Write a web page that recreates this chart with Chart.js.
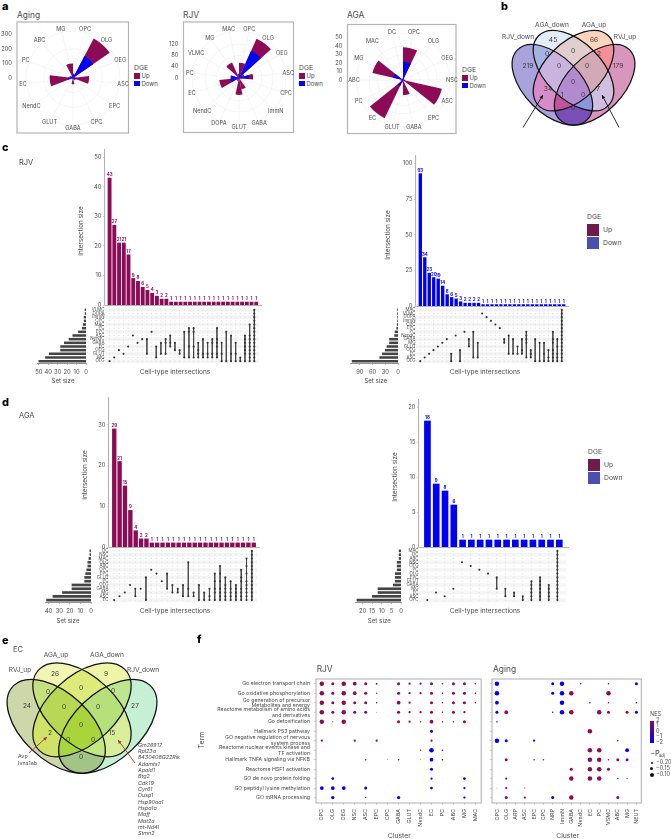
<!DOCTYPE html>
<html>
<head>
<meta charset="utf-8">
<style>
  html, body { margin: 0; padding: 0; background: #fff; }
  #page { position: relative; width: 671px; height: 839px; overflow: hidden; font-family: Inter, "Open Sans", sans-serif; color: #444; }
  #page canvas { position: absolute; }
  .t { position: absolute; white-space: nowrap; line-height: 1; }
  .sw { position: absolute; }
</style>
<script src="https://cdn.jsdelivr.net/npm/chart.js@4"></script>
</head>
<body>
<div id="page"></div>
<script>
// panel a
const agingCats = ['OPC','OLG','OEG','ASC','EPC','CPC','GABA','GLUT','NendC','EC','PC','ABC','MG'];
const agingUp = [10,135,5,85,5,5,32,5,5,125,5,5,80];
const agingDown = [20,170,10,25,15,5,10,5,5,35,20,10,20];
const agingTicks = [0,100,200,300];
const rjvCats = ['OPC','OLG','OEG','ASC','CPC','ImmN','GABA','GLUT','DOPA','NendC','EC','PC','VLMC','MG','MAC'];
const rjvUp = [42,47,10,15,5,3,38,55,8,6,40,2,4,52,10];
const rjvDown = [12,105,10,35,5,2,3,5,4,4,30,28,4,8,5];
const rjvTicks = [0,40,80,120];
const agaCats = ['OPC','OLG','OEG','NSC','ASC','EPC','GABA','GLUT','EC','PC','ABC','MG','MAC','DC'];
const agaUp = [17,1,1,1,44,1,17,2,42,2,2,25,1,1];
const agaDown = [21.6,1,1,1,3,1,1,1,8,1,1,12,1,1];
const agaTicks = [0,10,20,30,40,50];

// panel b / e
const vennRegions = [[0],[1],[2],[3],[0,1],[1,2],[2,3],[0,2],[1,3],[0,3],[0,1,2],[1,2,3],[0,2,3],[0,1,3],[0,1,2,3]];
const bCounts = [219,45,66,179,0,0,2,34,7,0,0,0,1,0,0];
const bColors = ['#a9a2dc','#e3edf9','#fdd4bd','#d996bc','#a5b2e2','#e0cfcc','#f28f98','#d58cc9','#d0bfe0','#7a4fb8','#c9b3df','#d3a9b5','#c2549e','#8b96dd','#b28bcf'];
const bAnchors = [[528,66],[553,40],[594,40],[618,66],[547,54],[573,51],[599,54],[548,89],[598,89],[573,108],[559,66],[587,66],[562,95],[583,95],[573,82]];
const eCounts = [24,26,9,27,0,0,0,2,15,0,0,0,0,0,0];
const eColors = ['#cdd7a9','#f3f5b4','#eef5a6','#c6f0d3','#c6e07e','#dceb7a','#bfe68f','#d0e366','#d8ee9a','#a3c487','#b8d855','#b5e07a','#a6d641','#c2e884','#a9d43c'];
const eAnchors = [[27,706],[55,674],[106,674],[135,706],[48,692],[81,688],[113,691],[50,733],[112,733],[81,757],[64,707],[98,707],[68,740],[93,740],[81,725]];
const eGenes = ['Gm26917','Rpl23a','8430408G22Rik','Adamts1','Apold1','Btg2','Cdk19','Cyr61','Dusp1','Hsp90aa1','Hspa1a','Maff','Mat2a','mt-Nd4l','Stmn2'];

// panel c
const cUpSizes = [43,27,21,21,17,9,8,6,5,4,3,2,2,1,1,1,1,1,1,1,1,1,1,1,1,1,1,1,1,1,1,1];
const cUpSets = ['VLMC','DOPA','ImmN','CPC','MAC','PC','EPC','ASC','NendC','GABA','EC','OEG','GLUT','MG','OLG'];
const cUpSetSizes = [1,1,2,2,3,4,8,14,18,23,27,27,39,43,50];
const cUpCols = [[14],[13],[11],[12],[10],[7],[9],[8],[8,12],[6],[10,13],[9,12],[8,9,12],[7,9,10],[9,11],[11,12],[6,13],[5,6,10,13],[5,6,10,13],[9,11,12,13],[8,12,13],[9,12,13],[8,9,12,13],[5,8,9,10,12,13],[9,12,14],[6,14],[7,12,14],[9,12,14],[13,14],[7,8,9,10,11,12,14],[4,7,8,9,10,11,12,13,14],[0,1,2,3,4,5,6,7,8,9,10,11,12,13,14]];
const cDownSizes = [93,34,23,20,19,14,8,6,5,3,2,2,2,2,1,1,1,1,1,1,1,1,1,1,1,1,1,1,1,1,1,1,1];
const cDownSets = ['MAC','VLMC','DOPA','ImmN','CPC','EPC','PC','NendC','GABA','MG','GLUT','OEG','EC','ASC','OLG'];
const cDownSetSizes = [1,1,1,1,2,3,7,8,20,20,26,30,37,43,108];
const cDownCols = [[14],[13],[12],[11],[10],[9],[8],[12,14],[7],[11,14],[6],[8,10],[6,13],[9,13],[1],[2],[3],[4],[5],[8,9],[7,12],[8,12],[10,12],[8,11,12],[6,7,8,9,13],[11,12,13],[8,14],[9,14],[9,12,14],[11,13,14],[6,8,9,11,12,13,14],[8,10,12,13,14],[0,1,2,3,4,5,6,7,8,9,10,11,12,13,14]];

// panel d
const dUpSizes = [29,21,15,9,4,2,2,1,1,1,1,1,1,1,1,1,1,1,1,1,1,1,1,1,1,1,1];
const dUpSets = ['DC','NSC','MAC','OLG','ABC','OPC','EPC','GLUT','PC','OEG','GABA','MG','ASC','EC'];
const dUpSetSizes = [1,1,2,3,3,4,5,6,6,18,18,27,36,42];
const dUpCols = [[13],[12],[11],[9],[10,12],[10],[7,13],[5],[6],[8],[6,10],[9,11],[10,11],[9,12],[3,10,12],[11,12],[9,13],[11,13],[10,12,13],[6,8,10,11,13],[4,6,8,10,11,12,13],[7,9,10,11,12,13],[8,10,11,12,13],[9,10,11,12,13],[5,7,8,10,11,12,13],[2,4,6,8,9,10,11,12,13],[0,1,2,3,4,5,6,7,8,9,10,11,12,13]];
const dDownSizes = [18,9,8,6,1,1,1,1,1,1,1,1,1,1,1,1];
const dDownSets = ['MAC','DC','ABC','NSC','OEG','PC','OLG','EPC','GLUT','GABA','MG','EC','ASC','OPC'];
const dDownSetSizes = [1,1,1,2,2,2,3,3,3,4,12,12,15,23];
const dDownCols = [[13],[11],[12],[10],[3],[4],[5],[6],[7,10],[10,12],[11,12],[12,13],[8,9,10,11,12,13],[7,8,9,10,11,12,13],[9,10,11,12,13],[0,1,2,3,4,5,6,7,8,9,10,11,12,13]];

// panel f: signed dot size per term, + is up (NES>0), - is down
const fTerms = ['Go electron transport chain','Go oxidative phosphorylation',['Go generation of precursor','Metabolites and energy'],['Reactome metabolism of amino acids','and derivatives'],'Go detoxification','Hallmark P53 pathway',['GO negative regulation of nervous','system process'],['Reactome nuclear events kinase and','TF activation'],'Hallmark TNFA signaling via NFKB','Reactome HSF1 activation','GO de novo protein folding','GO peptidyl lysine methylation','GO mRNA processing'];
const fRjvClusters = ['OPC','OLG','OEG','NSC','ASC','EPC','CPC','GABA','GLUT','NendC','EC','PC','ABC','MG','MAC'];
const fRjvDots = [
  [3,2,3,2.5,2,1.2,0,2,1.5,1.5,2,1,2,2,1],
  [3,2,3,2.5,2,1,0,2,1.5,1.5,2,1,2,2,1],
  [3,2,3,2,2,1,0,2.5,1.5,0,2,1,2,2,1],
  [3,2,3,2,2,.5,0,2,1.5,1.5,2,1,2,1.5,0],
  [3,.7,3,0,0,0,0,2,1.5,1,2.5,1,1,2,0],
  [0,0,0,0,0,0,0,0,0,0,-2,0,0,0,0],
  [1.5,0,0,1.5,0,1.5,0,0,0,0,1.5,0,0,0,0],
  [0,0,0,0,0,0,0,0,0,1,-3,-1,0,0,0],
  [0,0,0,0,-1,0,-.4,-1,0,.5,-2.5,-1,0,0,0],
  [0,0,0,0,0,0,0,0,0,0,-2,0,0,0,0],
  [0,-1.8,0,0,0,0,0,0,0,0,-1.5,-.3,0,-1.8,0],
  [-2.5,-2.5,-2.5,0,-2,0,0,0,0,0,-1.8,0,0,-1.5,0],
  [0,-2.2,0,0,-1,0,0,-2.2,0,0,0,0,0,-1.5,0]
];
const fAgingClusters = ['OPC','OLG','ARP','ASC','EPC','CPC','NRP','ImmN','GABA','NendC','EC','PC','VSMC','ABC','MG','NEUT'];
const fAgingDots = [
  [-3,0,0,0,0,0,-2,-3,0,1,0,0,1,0,0,-2],
  [-3,0,0,0,0,0,-2,-3,3,0,0,0,3,0,0,0],
  [-2.5,0,0,0,0,0,0,-3,0,0,-1,0,1,0,0,-1],
  [-2,2.5,0,0,0,0,-1,-3,3,0,0,3,2,0,2,-2],
  [-1,0,0,0,0,0,0,0,0,0,0,0,0,0,0,0],
  [0,0,0,0,0,0,0,0,0,0,3,0,0,0,0,0],
  [-3,-2,0,0,-1.5,0,0,0,0,0,0,0,0,-1,0,0],
  [0,0,0,0,0,0,0,0,0,0,3,3,0,0,-2.5,0],
  [0,2,0,0,1,1,0,0,0,-.3,3,3,1,2,2,0],
  [0,0,0,0,0,0,0,0,2,0,3,3,2,0,0,0],
  [0,1.5,0,0,0,0,0,0,3,0,3,3,0,1,.8,0],
  [.5,1.5,0,.7,0,0,0,0,0,0,0,0,0,0,0,0],
  [0,2,0,1.5,0,0,-2,0,3,0,0,0,0,2,0,0]
];
const nesTicks = ['2','1','0','\u22121','\u22122'];
const padjTicks = ['\u22120.20','\u22120.15','\u22120.10'];

const UP = '#8c0a56';
const DOWN = '#0000f5';
const AXIS = '#b4b4b4';
const INK = '#4a4a4a';
const FONT = 'Inter, "Open Sans", sans-serif';

Chart.defaults.animation = false;
Chart.defaults.responsive = false;
Chart.defaults.font.family = FONT;
Chart.defaults.plugins.legend.display = false;
Chart.defaults.plugins.tooltip.enabled = false;

const page = document.getElementById('page');

function text(str, x, y, o = {}) {
  const el = document.createElement('div');
  el.className = 't';
  el.textContent = str;
  const ax = o.anchor === 'middle' ? -50 : o.anchor === 'end' ? -100 : 0;
  el.style.left = x + 'px';
  el.style.top = y + 'px';
  el.style.fontSize = (o.size || 6) + 'px';
  el.style.color = o.color || INK;
  if (o.weight) el.style.fontWeight = o.weight;
  if (o.italic) el.style.fontStyle = 'italic';
  el.style.transform = `translate(${ax}%,-50%)` + (o.rot ? ` rotate(${o.rot}deg)` : '');
  page.appendChild(el);
}

function swatch(x, y, w, h, color) {
  const el = document.createElement('div');
  el.className = 'sw';
  el.style.cssText = `left:${x}px;top:${y}px;width:${w}px;height:${h}px;background:${color}`;
  page.appendChild(el);
  return el;
}

// plot area sits exactly on the given box, axes are drawn into the margins
function makeCanvas(box, m) {
  const c = document.createElement('canvas');
  const left = Math.round(box.l) - m.l, top = Math.round(box.t) - m.t;
  c.width = Math.round(box.r) - Math.round(box.l) + m.l + m.r;
  c.height = Math.round(box.b) - Math.round(box.t) + m.t + m.b;
  c.style.left = left + 'px';
  c.style.top = top + 'px';
  page.appendChild(c);
  return c;
}
const pad = m => ({ left: m.l, right: m.r, top: m.t, bottom: m.b });
// a scale takes a fixed band of the margin so its labels are not clipped
const bandFit = size => s => { if (s.isHorizontal()) s.height = size; else s.width = size; };
const fixedTicks = vals => s => { s.ticks = vals.map(v => ({ value: v })); };
const range = n => Array.from({ length: n }, (_, i) => i);

function polar(o) {
  const R = 47;
  const m = { l: Math.round(o.cx) - R - Math.round(o.box.l) + 24, r: Math.round(o.box.r) - Math.round(o.cx) - R + 2, t: Math.round(o.cy) - R - Math.round(o.box.t) + 2, b: Math.round(o.box.b) - Math.round(o.cy) - R + 2 };
  const c = makeCanvas({ l: o.cx - R, r: o.cx + R, t: o.cy - R, b: o.cy + R }, m);
  new Chart(c, {
    type: 'polarArea',
    data: {
      labels: o.cats,
      datasets: [
        { data: o.down, backgroundColor: DOWN, borderWidth: 0 },
        { data: o.up.map((v, i) => v + o.down[i]), backgroundColor: UP, borderWidth: 0 }
      ]
    },
    options: {
      layout: { padding: pad(m) },
      scales: {
        r: {
          min: 0, max: R / o.pxPerUnit,
          ticks: { display: false, stepSize: o.ticks[1] },
          grid: { color: '#efefef', lineWidth: 0.6, circular: true },
          angleLines: { display: false },
          pointLabels: { display: false }
        }
      }
    },
    plugins: [{
      id: 'polarDecor',
      beforeDatasetsDraw(ch) {
        const s = ch.scales.r, ctx = ch.ctx;
        ctx.save();
        ctx.strokeStyle = '#efefef';
        ctx.lineWidth = 0.6;
        o.cats.forEach((_, i) => {
          const p = s.getPointPosition(i + 0.5, R);
          ctx.beginPath(); ctx.moveTo(s.xCenter, s.yCenter); ctx.lineTo(p.x, p.y); ctx.stroke();
        });
        ctx.restore();
      },
      afterDraw(ch) {
        const s = ch.scales.r, ctx = ch.ctx;
        ctx.save();
        const ox = Math.round(o.cx) - R - m.l, oy = Math.round(o.cy) - R - m.t;
        ctx.strokeStyle = AXIS;
        ctx.lineWidth = 1.2;
        ctx.strokeRect(o.box.l - ox, o.box.t - oy, o.box.r - o.box.l, o.box.b - o.box.t);
        ctx.fillStyle = INK;
        ctx.font = '5.6px ' + FONT;
        ctx.textAlign = 'center';
        ctx.textBaseline = 'middle';
        o.cats.forEach((lab, i) => {
          const p = s.getPointPosition(i + 0.5, o.labelR);
          ctx.fillText(lab, p.x, p.y);
        });
        ctx.textAlign = 'right';
        ctx.font = '5.8px ' + FONT;
        o.ticks.forEach(v => {
          const y = s.yCenter - s.getDistanceFromCenterForValue(v);
          ctx.fillText(String(v), o.box.l - ox - 5, y);
        });
        ctx.restore();
      }
    }]
  });
}

function legendSmall(x, y) {
  text('DGE', x, y, { size: 6.8 });
  swatch(x, y + 5, 5.5, 5.5, UP);
  text('Up', x + 7.5, y + 8, { size: 6 });
  swatch(x, y + 12.5, 5.5, 5.5, DOWN);
  text('Down', x + 7.5, y + 15.5, { size: 6 });
}

function legendBig(x, y) {
  text('DGE', x, y, { size: 6.8 });
  swatch(x, y + 7.5, 12, 12, '#6e1a4a');
  text('Up', x + 16, y + 13.5, { size: 6.8 });
  swatch(x, y + 20.7, 12, 12, '#4a4fb0');
  text('Down', x + 16, y + 26.7, { size: 6.8 });
}

function venn(o) {
  const box = o.box, m = { l: 0, r: 0, t: 0, b: 0 };
  const c = makeCanvas(box, m);
  const ellipses = [[.35,.47,1],[.5,.57,1],[.5,.57,-1],[.65,.47,-1]];
  new Chart(c, {
    type: 'scatter',
    data: { datasets: [{ data: o.anchors.map(p => ({ x: p[0], y: p[1] })), pointRadius: 0 }] },
    options: {
      layout: { padding: 0 },
      scales: {
        x: { display: false, min: Math.round(box.l), max: Math.round(box.r) },
        y: { display: false, min: Math.round(box.t), max: Math.round(box.b), reverse: true }
      }
    },
    plugins: [{
      id: 'vennDraw',
      beforeDatasetsDraw(ch) {
        const ctx = ch.ctx, X = ch.scales.x, Y = ch.scales.y;
        const path = i => {
          const e = ellipses[i];
          ctx.beginPath();
          ctx.save();
          ctx.translate(X.getPixelForValue(o.cx + (e[0] - .5) * o.sx), Y.getPixelForValue(o.top + (.855 - e[1]) * o.sy));
          ctx.scale(o.sx, o.sy);
          ctx.rotate(e[2] * Math.PI / 4);
          ctx.ellipse(0, 0, .35, .2, 0, 0, Math.PI * 2);
          ctx.restore();
        };
        vennRegions.forEach((sets, r) => {
          ctx.save();
          sets.forEach(i => { path(i); ctx.clip(); });
          ctx.fillStyle = o.colors[r];
          ctx.fillRect(0, 0, ch.width, ch.height);
          ctx.restore();
        });
        ctx.save();
        ctx.strokeStyle = '#111';
        ctx.lineWidth = 1.25;
        ellipses.forEach((_, i) => { path(i); ctx.stroke(); });
        ctx.restore();
      },
      afterDatasetsDraw(ch) {
        const ctx = ch.ctx, X = ch.scales.x, Y = ch.scales.y;
        ctx.save();
        ctx.fillStyle = '#3a3a3a';
        ctx.font = '6.6px ' + FONT;
        ctx.textAlign = 'center';
        ctx.textBaseline = 'middle';
        ch.getDatasetMeta(0).data.forEach((pt, i) => ctx.fillText(String(o.counts[i]), pt.x, pt.y));
        ctx.strokeStyle = ctx.fillStyle = o.arrowColor;
        ctx.lineWidth = 0.9;
        o.arrows.forEach(a => {
          const x0 = X.getPixelForValue(a[0]), y0 = Y.getPixelForValue(a[1]);
          const x1 = X.getPixelForValue(a[2]), y1 = Y.getPixelForValue(a[3]);
          const th = Math.atan2(y1 - y0, x1 - x0), h = 4;
          ctx.beginPath(); ctx.moveTo(x0, y0); ctx.lineTo(x1, y1); ctx.stroke();
          ctx.beginPath();
          ctx.moveTo(x1, y1);
          ctx.lineTo(x1 - h * Math.cos(th - .45), y1 - h * Math.sin(th - .45));
          ctx.lineTo(x1 - h * Math.cos(th + .45), y1 - h * Math.sin(th + .45));
          ctx.closePath(); ctx.fill();
        });
        ctx.restore();
      }
    }]
  });
}

function upset(o) {
  const n = o.sizes.length, rows = o.sets.length;
  const xScale = { type: 'linear', min: o.xMin, max: o.xMax, offset: false };

  // intersection size bars
  const m1 = { l: 26, r: 6, t: 7, b: 7 };
  const bars = makeCanvas({ l: o.x0, r: o.x1, t: o.barTop, b: o.barBottom }, m1);
  new Chart(bars, {
    type: 'bar',
    data: { datasets: [{ data: o.sizes.map((v, i) => ({ x: i, y: v })), backgroundColor: o.color, barThickness: o.barW }] },
    options: {
      layout: { padding: { left: 0, right: m1.r, top: m1.t, bottom: m1.b } },
      scales: {
        x: { ...xScale, afterFit: bandFit(0), ticks: { display: false }, grid: { display: false }, border: { color: AXIS, width: 1 } },
        y: {
          min: 0, max: o.yMax, afterFit: bandFit(m1.l),
          afterBuildTicks: fixedTicks(o.yTicks),
          ticks: { autoSkip: false, color: INK, font: { size: 5.8 }, padding: 1.5 },
          grid: { drawOnChartArea: false, tickLength: 2, color: AXIS, lineWidth: 0.6 },
          border: { color: AXIS, width: 1.1 }
        }
      }
    },
    plugins: [{
      id: 'barValues',
      afterDatasetsDraw(ch) {
        const ctx = ch.ctx;
        ctx.save();
        ctx.fillStyle = o.color;
        ctx.font = '700 4.4px ' + FONT;
        ctx.textAlign = 'center';
        ctx.textBaseline = 'bottom';
        ch.getDatasetMeta(0).data.forEach((b, i) => ctx.fillText(String(o.sizes[i]), b.x, b.y - 1));
        ctx.restore();
      }
    }]
  });

  // membership matrix
  const m2 = { l: 20, r: 2, t: 5, b: 5 };
  const mat = makeCanvas({ l: o.x0, r: o.x1, t: o.matTop, b: o.matBottom }, m2);
  const grey = [];
  range(n).forEach(x => range(rows).forEach(y => grey.push({ x, y })));
  const colSets = o.cols.map((col, x) => ({
    data: col.map(y => ({ x, y })),
    showLine: true, borderColor: '#444', borderWidth: 0.8,
    pointRadius: 1.05, pointBackgroundColor: '#333', pointBorderWidth: 0
  }));
  colSets.push({ data: grey, pointRadius: 0.65, pointBackgroundColor: '#dedede', pointBorderWidth: 0 });
  new Chart(mat, {
    type: 'scatter',
    data: { datasets: colSets },
    options: {
      layout: { padding: { left: 0, right: m2.r, top: m2.t, bottom: m2.b } },
      scales: {
        x: { ...xScale, display: false },
        y: {
          reverse: true, min: -0.5, max: rows - 0.5, afterFit: bandFit(m2.l),
          afterBuildTicks: fixedTicks(range(rows)),
          ticks: { autoSkip: false, color: INK, font: { size: 4.4 }, padding: 0.5, callback: v => o.sets[v] },
          grid: { display: false, drawTicks: false, tickLength: 0 },
          border: { display: false }
        }
      }
    },
    plugins: [{
      id: 'stripes',
      beforeDatasetsDraw(ch) {
        const ctx = ch.ctx, a = ch.chartArea, Y = ch.scales.y;
        ctx.save();
        ctx.fillStyle = '#f5f5f5';
        range(rows).forEach(r => {
          if (r % 2 === (rows - 1) % 2) {
            const y0 = Y.getPixelForValue(r - .5), y1 = Y.getPixelForValue(r + .5);
            ctx.fillRect(a.left, y0, a.right - a.left, y1 - y0);
          }
        });
        ctx.restore();
      }
    }]
  });

  // set size bars
  const m3 = { l: 12, r: 8, t: 2, b: 14 };
  const sets = makeCanvas({ l: o.setLeft, r: o.setRight, t: o.matTop, b: o.matBottom }, m3);
  new Chart(sets, {
    type: 'bar',
    data: { datasets: [{ data: o.setSizes.map((v, i) => ({ x: v, y: i })), backgroundColor: '#444', barThickness: o.setBarH }] },
    options: {
      indexAxis: 'y',
      layout: { padding: { left: m3.l, right: m3.r, top: m3.t, bottom: 0 } },
      scales: {
        x: {
          reverse: true, min: 0, max: o.setMax, afterFit: bandFit(m3.b),
          afterBuildTicks: fixedTicks(o.setTicks),
          ticks: { autoSkip: false, color: INK, font: { size: 5.8 }, padding: 4, maxRotation: 0 },
          grid: { drawOnChartArea: false, tickLength: 2, color: '#777', lineWidth: 0.5 },
          border: { color: '#777', width: 0.8 }
        },
        y: { type: 'linear', reverse: true, display: false, min: -0.5, max: rows - 0.5, offset: false }
      }
    }
  });

  text('Intersection size', o.ySizeX, o.ySizeY, { size: 6.4, anchor: 'middle', rot: -90 });
  text('Cell-type intersections', o.xLabelX, o.xLabelY, { size: 6.6, anchor: 'middle' });
  text('Set size', o.setLabelX, o.setLabelY, { size: 6.2, anchor: 'middle' });
}

function dotPlot(o) {
  const m = { l: 6, r: 3, t: 8, b: 28 };
  if (o.showTerms) m.l = 120;
  const c = makeCanvas(o.box, m);
  const pts = [];
  o.dots.forEach((row, y) => row.forEach((s, x) => {
    if (s !== 0) pts.push({ x, y, r: Math.abs(s) * 0.75, s });
  }));
  new Chart(c, {
    type: 'bubble',
    data: { datasets: [{
      data: pts, borderWidth: 0,
      backgroundColor: ctx => (ctx.raw && ctx.raw.s > 0 ? UP : DOWN)
    }] },
    options: {
      layout: { padding: { left: 0, right: m.r, top: m.t, bottom: 0 } },
      scales: {
        x: {
          type: 'linear', min: -0.53, max: o.clusters.length - 1 + 0.53, afterFit: bandFit(m.b),
          afterBuildTicks: fixedTicks(range(o.clusters.length)),
          ticks: { autoSkip: false, minRotation: 90, maxRotation: 90, color: INK, font: { size: 5.4 }, padding: 4, callback: v => o.clusters[v] },
          grid: { drawOnChartArea: false, tickLength: 2, color: AXIS, lineWidth: 0.6 },
          border: { display: false }
        },
        y: {
          type: 'linear', reverse: true, min: -0.5, max: 12.57, afterFit: bandFit(m.l),
          afterBuildTicks: fixedTicks(range(13)),
          ticks: { autoSkip: false, color: INK, font: { size: 5.25, lineHeight: 1.06 }, padding: 4, callback: v => (o.showTerms ? fTerms[v] : '') },
          grid: { drawOnChartArea: false, tickLength: 2, color: AXIS, lineWidth: 0.6 },
          border: { display: false }
        }
      }
    },
    plugins: [{
      id: 'frame',
      afterDraw(ch) {
        const a = ch.chartArea, ctx = ch.ctx;
        ctx.save();
        ctx.strokeStyle = AXIS;
        ctx.lineWidth = 1.1;
        ctx.strokeRect(a.left, a.top, a.right - a.left, a.bottom - a.top);
        ctx.restore();
      }
    }]
  });
}

// a
polar({ cats: agingCats, up: agingUp, down: agingDown, ticks: agingTicks, cx: 72.5, cy: 77.5, pxPerUnit: 0.146, labelR: 50.5, box: { l: 17, r: 128.5, t: 22, b: 133 } });
polar({ cats: rjvCats, up: rjvUp, down: rjvDown, ticks: rjvTicks, cx: 238.5, cy: 77.5, pxPerUnit: 0.283, labelR: 49.5, box: { l: 183.5, r: 293.5, t: 22, b: 132.5 } });
polar({ cats: agaCats, up: agaUp, down: agaDown, ticks: agaTicks, cx: 402.5, cy: 80, pxPerUnit: 0.847, labelR: 49, box: { l: 347.5, r: 456, t: 24.5, b: 133.5 } });
text('Aging', 17, 15, { size: 8.4 });
text('RJV', 183, 15, { size: 8.4 });
text('AGA', 347, 15, { size: 8.4 });
legendSmall(134, 68);
legendSmall(299, 68);
legendSmall(462, 70);

// b
venn({ box: { l: 505, r: 640, t: 24, b: 130 }, cx: 573.5, top: 30.5, sx: 141, sy: 141, counts: bCounts, colors: bColors, anchors: bAnchors, arrowColor: '#111', arrows: [[523,127.5,543,95],[619,127.5,602,95]] });
text('AGA_down', 552, 25, { size: 6.6, anchor: 'middle' });
text('AGA_up', 594, 25, { size: 6.6, anchor: 'middle' });
text('RJV_down', 518, 37, { size: 6.6, anchor: 'middle' });
text('RVJ_up', 625, 37, { size: 6.6, anchor: 'middle' });

// c
upset({ sizes: cUpSizes, sets: cUpSets, setSizes: cUpSetSizes, cols: cUpCols, color: UP, barW: 3.2, setBarH: 1.9,
  x0: 104.7, x1: 261, barTop: 150, barBottom: 305, xMin: -0.97, xMax: 32, yMax: 52.5, yTicks: [0,10,20,30,40,50],
  matTop: 307.5, matBottom: 362.5, setLeft: 37, setRight: 86, setMax: 52, setTicks: [50,40,30,20,10,0],
  ySizeX: 81, ySizeY: 231, xLabelX: 175, xLabelY: 372, setLabelX: 63, setLabelY: 381 });
upset({ sizes: cDownSizes, sets: cDownSets, setSizes: cDownSetSizes, cols: cDownCols, color: DOWN, barW: 2.7, setBarH: 1.9,
  x0: 415.7, x1: 567.7, barTop: 156, barBottom: 306, xMin: -0.96, xMax: 32.97, yMax: 105.4, yTicks: [0,25,50,75,100],
  matTop: 308, matBottom: 363, setLeft: 350, setRight: 398, setMax: 113, setTicks: [90,60,30,0],
  ySizeX: 388, ySizeY: 235, xLabelX: 485, xLabelY: 372, setLabelX: 375.7, setLabelY: 381 });
text('RJV', 19, 163, { size: 7.5 });
legendBig(587, 216.5);

// d
upset({ sizes: dUpSizes, sets: dUpSets, setSizes: dUpSetSizes, cols: dUpCols, color: UP, barW: 3.7, setBarH: 2,
  x0: 109, x1: 259.3, barTop: 398, barBottom: 547, xMin: -0.98, xMax: 26.98, yMax: 36.6, yTicks: [0,10,20,30],
  matTop: 549, matBottom: 602, setLeft: 45, setRight: 91, setMax: 43.5, setTicks: [40,30,20,10,0],
  ySizeX: 85, ySizeY: 475, xLabelX: 175, xLabelY: 611.3, setLabelX: 68, setLabelY: 620.7 });
upset({ sizes: dDownSizes, sets: dDownSets, setSizes: dDownSetSizes, cols: dDownCols, color: DOWN, barW: 6, setBarH: 2,
  x0: 419.3, x1: 567.7, barTop: 400, barBottom: 547.3, xMin: -0.96, xMax: 15.99, yMax: 21, yTicks: [0,5,10,15,20],
  matTop: 549, matBottom: 602, setLeft: 355, setRight: 401, setMax: 24, setTicks: [20,15,10,5,0],
  ySizeX: 395, ySizeY: 476.7, xLabelX: 485, xLabelY: 611.3, setLabelX: 379.3, setLabelY: 620.7 });
text('AGA', 19, 416, { size: 7.5 });
legendBig(588, 451.7);

// e
venn({ box: { l: 0, r: 170, t: 655, b: 780 }, cx: 82, top: 663, sx: 172, sy: 164.5, counts: eCounts, colors: eColors, anchors: eAnchors, arrowColor: '#a2323f', arrows: [[29,753,47,737],[135,763,118,740]] });
text('EC', 13, 650, { size: 7.5 });
text('AGA_up', 56, 655, { size: 6.6, anchor: 'middle' });
text('AGA_down', 107, 655, { size: 6.6, anchor: 'middle' });
text('RVJ_up', 20, 670, { size: 6.6, anchor: 'middle' });
text('RJV_down', 143, 670, { size: 6.6, anchor: 'middle' });
text('Avp', 18, 757, { size: 5.4 });
text('Ivns1ab', 18, 763.5, { size: 5.4 });
eGenes.forEach((g, i) => text(g, 138, 745.7 + i * 6.33, { size: 5.4, italic: true }));

// f
dotPlot({ box: { l: 315.7, r: 483.3, t: 679.3, b: 802.7 }, clusters: fRjvClusters, dots: fRjvDots, showTerms: true });
dotPlot({ box: { l: 491.7, r: 644.3, t: 679.3, b: 802.7 }, clusters: fAgingClusters, dots: fAgingDots, showTerms: false });
text('RJV', 316.7, 669, { size: 8.4 });
text('Aging', 493, 669, { size: 8.4 });
text('Term', 201, 740, { size: 7, anchor: 'middle', rot: -90 });
text('Cluster', 399.3, 836, { size: 6.8, anchor: 'middle' });
text('Cluster', 567.7, 836, { size: 6.8, anchor: 'middle' });
text('NES', 650, 714.5, { size: 5.6 });
const bar = swatch(650, 721, 4.4, 22.3, '');
bar.style.background = `linear-gradient(${UP}, ${DOWN})`;
nesTicks.forEach((t, i) => text(t, 656, 720.8 + i * 5.5, { size: 5.6 }));
text('\u2212P', 650, 754, { size: 7.5 });
text('adj', 659, 756, { size: 4.2 });
padjTicks.forEach((t, i) => {
  const y = 762.7 + i * 6.2;
  const r = 1 + i * 0.55;
  const d = swatch(651.8 - r, y - r, 2 * r, 2 * r, '#111');
  d.style.borderRadius = '50%';
  text(t, 656, y, { size: 5.6 });
});

// panel letters
[['a',2,6],['b',501,6],['c',2,147],['d',2,402],['e',2,640],['f',197,639]].forEach(p =>
  text(p[0], p[1], p[2], { size: 11, weight: 800, color: '#000' }));
</script>
</body>
</html>
